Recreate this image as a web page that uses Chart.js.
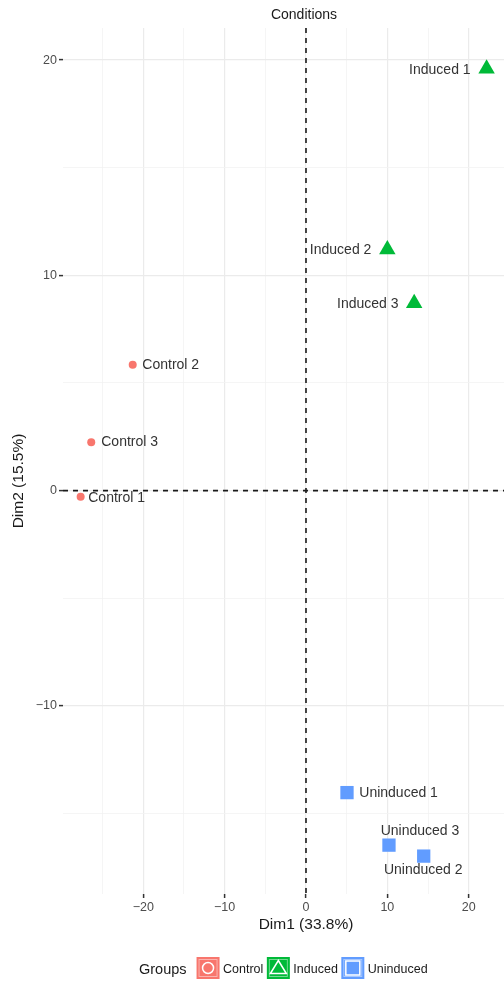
<!DOCTYPE html>
<html>
<head>
<meta charset="utf-8">
<script src="https://cdn.jsdelivr.net/npm/chart.js@4.4.1/dist/chart.umd.min.js"></script>
<style>
  html, body { margin: 0; padding: 0; background: #fff; overflow: hidden; }
  #wrap { position: relative; width: 504px; height: 983px; }
</style>
</head>
<body>
<div id="wrap"><canvas id="pca"></canvas></div>
<script>
// PCA scores per group
const controlNames = ['Control 1', 'Control 2', 'Control 3'];
const controlDim1 = [-27.7, -21.3, -26.4];
const controlDim2 = [-0.28, 5.85, 2.25];

const inducedNames = ['Induced 1', 'Induced 2', 'Induced 3'];
const inducedDim1 = [22.2, 10.0, 13.3];
const inducedDim2 = [19.6, 11.2, 8.7];

const uninducedNames = ['Uninduced 1', 'Uninduced 2', 'Uninduced 3'];
const uninducedDim1 = [5.04, 14.47, 10.2];
const uninducedDim2 = [-14.03, -16.98, -16.47];

const groupNames = ['Control', 'Induced', 'Uninduced'];
const xTicks = [-20, -10, 0, 10, 20];
const yTicks = [-10, 0, 10, 20];

const FONT = '"Liberation Sans", Arial, Helvetica, sans-serif';
const COLORS = { Control: '#F8766D', Induced: '#00BA38', Uninduced: '#619CFF' };

Chart.defaults.font.family = FONT;

// where each sample label sits relative to its point
const labelPos = {
    'Control 1':   { align: 'left',   dx: 7.6,  dy: 1.7 },
    'Control 2':   { align: 'left',   dx: 9.6,  dy: 0 },
    'Control 3':   { align: 'left',   dx: 10,   dy: 0 },
    'Induced 1':   { align: 'right',  dx: -16,  dy: 1.5 },
    'Induced 2':   { align: 'right',  dx: -16,  dy: 0.3 },
    'Induced 3':   { align: 'right',  dx: -15.7, dy: 1 },
    'Uninduced 1': { align: 'left',   dx: 12.3, dy: 0.6 },
    'Uninduced 2': { align: 'center', dx: -0.5, dy: 14.3 },
    'Uninduced 3': { align: 'center', dx: 31,   dy: -14 }
};

const toPoints = (xs, ys) => xs.map((v, i) => ({ x: v, y: ys[i] }));
const fmt = v => (v < 0 ? '\u2212' + Math.abs(v) : String(v));

// dashed zero lines
const zeroLines = {
    id: 'zeroLines',
    beforeDatasetsDraw(chart) {
        const { ctx, chartArea: a, scales: { x, y } } = chart;
        const x0 = x.getPixelForValue(0);
        const y0 = y.getPixelForValue(0);
        ctx.save();
        ctx.strokeStyle = '#1a1a1a';
        ctx.lineWidth = 1.6;
        ctx.setLineDash([5, 5]);
        ctx.beginPath();
        ctx.moveTo(a.left, y0); ctx.lineTo(a.right, y0);
        ctx.moveTo(x0, a.top); ctx.lineTo(x0, a.bottom);
        ctx.stroke();
        ctx.restore();
    }
};

// sample names next to the points
const pointLabels = {
    id: 'pointLabels',
    afterDatasetsDraw(chart) {
        const { ctx } = chart;
        ctx.save();
        ctx.font = '14px ' + FONT;
        ctx.fillStyle = '#333';
        ctx.textBaseline = 'middle';
        chart.data.datasets.forEach((ds, i) => {
            chart.getDatasetMeta(i).data.forEach((el, j) => {
                const name = ds.names[j];
                const p = labelPos[name];
                ctx.textAlign = p.align;
                ctx.fillText(name, el.x + p.dx, el.y + p.dy);
            });
        });
        ctx.restore();
    }
};

function drawKeyShape(ctx, group, cx, cy) {
    ctx.fillStyle = COLORS[group];
    ctx.strokeStyle = '#fff';
    ctx.lineWidth = 1.5;
    ctx.beginPath();
    if (group === 'Control') {
        ctx.arc(cx, cy, 5.5, 0, Math.PI * 2);
    } else if (group === 'Induced') {
        ctx.moveTo(cx, cy - 7.5);
        ctx.lineTo(cx + 8, cy + 5.5);
        ctx.lineTo(cx - 8, cy + 5.5);
        ctx.closePath();
    } else {
        ctx.rect(cx - 7, cy - 7, 14, 14);
    }
    ctx.fill();
    ctx.stroke();
}

// titles and the group legend
const annotations = {
    id: 'annotations',
    afterDraw(chart) {
        const { ctx } = chart;
        ctx.save();
        ctx.fillStyle = '#1a1a1a';
        ctx.textBaseline = 'middle';
        ctx.textAlign = 'center';
        ctx.font = '14px ' + FONT;
        ctx.fillText('Conditions', 304, 15);

        ctx.font = '15.5px ' + FONT;
        ctx.fillText('Dim1 (33.8%)', 306, 925);
        ctx.save();
        ctx.translate(19, 481);
        ctx.rotate(-Math.PI / 2);
        ctx.fillText('Dim2 (15.5%)', 0, 0);
        ctx.restore();

        // legend
        let lx = 139;
        const ly = 969.5;
        ctx.textAlign = 'left';
        ctx.font = '14.5px ' + FONT;
        ctx.fillText('Groups', lx, ly);
        lx += ctx.measureText('Groups').width + 10;
        ctx.font = '12.5px ' + FONT;
        groupNames.forEach(g => {
            ctx.fillStyle = COLORS[g];
            ctx.fillRect(lx, 957, 23, 22);
            ctx.strokeStyle = 'rgba(255,255,255,0.45)';
            ctx.lineWidth = 1;
            ctx.strokeRect(lx + 2.5, 959.5, 18, 17);
            drawKeyShape(ctx, g, lx + 11.5, 968);
            lx += 23 + 3.5;
            ctx.fillStyle = '#1a1a1a';
            ctx.fillText(g, lx, ly);
            lx += ctx.measureText(g).width + 3.5;
        });
        ctx.restore();
    }
};

const isMajor = ctx => ctx.tick && ctx.tick.value % 10 === 0;

new Chart(document.getElementById('pca'), {
    type: 'scatter',
    data: {
        datasets: [
            {
                label: 'Control',
                names: controlNames,
                data: toPoints(controlDim1, controlDim2),
                pointStyle: 'circle',
                pointRadius: 4,
                backgroundColor: COLORS.Control,
                borderColor: COLORS.Control,
                borderWidth: 0
            },
            {
                label: 'Induced',
                names: inducedNames,
                data: toPoints(inducedDim1, inducedDim2),
                pointStyle: 'triangle',
                pointRadius: 9.5,
                backgroundColor: COLORS.Induced,
                borderColor: COLORS.Induced,
                borderWidth: 0
            },
            {
                label: 'Uninduced',
                names: uninducedNames,
                data: toPoints(uninducedDim1, uninducedDim2),
                pointStyle: 'rect',
                pointRadius: 9.4,
                backgroundColor: COLORS.Uninduced,
                borderColor: COLORS.Uninduced,
                borderWidth: 0
            }
        ]
    },
    options: {
        responsive: true,
        maintainAspectRatio: false,
        animation: false,
        events: [],
        layout: { padding: { top: 28, right: 0, bottom: 0, left: 0 }, autoPadding: false },
        plugins: {
            legend: { display: false },
            tooltip: { enabled: false }
        },
        scales: {
            x: {
                type: 'linear',
                min: -29.87,
                max: 24.34,
                border: { display: false },
                grid: {
                    color: ctx => isMajor(ctx) ? '#ebebeb' : '#f2f2f2',
                    lineWidth: ctx => isMajor(ctx) ? 1.2 : 0.8,
                    tickLength: 4,
                    tickWidth: 1.5,
                    tickColor: ctx => isMajor(ctx) ? '#333' : 'rgba(0,0,0,0)'
                },
                ticks: {
                    stepSize: 5,
                    includeBounds: false,
                    autoSkip: false,
                    maxRotation: 0,
                    padding: 2,
                    color: '#4d4d4d',
                    font: { size: 12.5 },
                    callback: v => xTicks.includes(v) ? fmt(v) : ''
                },
                afterFit: s => { s.height = 89; }
            },
            y: {
                type: 'linear',
                min: -18.74,
                max: 21.49,
                border: { display: false },
                grid: {
                    color: ctx => isMajor(ctx) ? '#ebebeb' : '#f2f2f2',
                    lineWidth: ctx => isMajor(ctx) ? 1.2 : 0.8,
                    tickLength: 4,
                    tickWidth: 1.5,
                    tickColor: ctx => isMajor(ctx) ? '#333' : 'rgba(0,0,0,0)'
                },
                ticks: {
                    stepSize: 5,
                    includeBounds: false,
                    autoSkip: false,
                    padding: 2,
                    color: '#4d4d4d',
                    font: { size: 12.5 },
                    callback: v => yTicks.includes(v) ? fmt(v) : ''
                },
                afterFit: s => { s.width = 63; }
            }
        }
    },
    plugins: [zeroLines, pointLabels, annotations]
});
</script>
</body>
</html>
